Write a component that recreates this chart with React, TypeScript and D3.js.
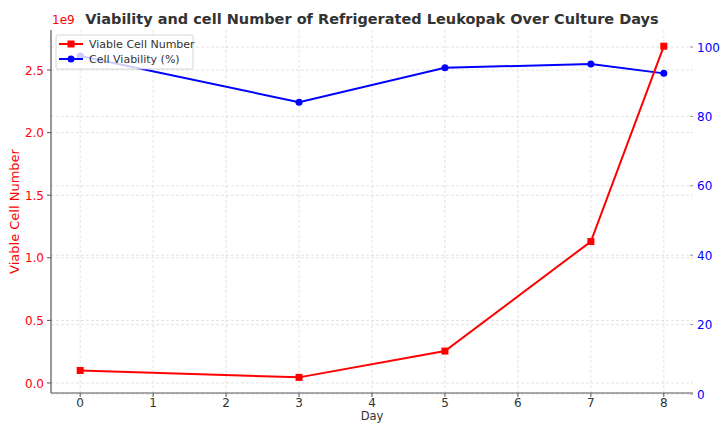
import React from "react";
import * as d3 from "d3";

const days = [0, 3, 5, 7, 8];
const viableCells = [0.1e9, 0.045e9, 0.255e9, 1.13e9, 2.69e9];
const viability = [97.4, 84.1, 94.0, 95.1, 92.4];
const xTicks = [0, 1, 2, 3, 4, 5, 6, 7, 8];
const leftTicks = [0, 0.5e9, 1.0e9, 1.5e9, 2.0e9, 2.5e9];
const rightTicks = [0, 20, 40, 60, 80, 100];

const W = 723, H = 423;
const L = 51, R = 693, T = 30, B = 393;

export default function App() {
  const x = d3.scaleLinear().domain([-0.4, 8.4]).range([L, R]);
  const yL = d3.scaleLinear().domain([0, 2.5e9]).range([383, 70]);
  const yR = d3.scaleLinear().domain([0, 100]).range([394, 47]);
  const lineL = d3.line<number>().x((_, i) => x(days[i])).y((d) => yL(d));
  const lineR = d3.line<number>().x((_, i) => x(days[i])).y((d) => yR(d));
  const font = "DejaVu Sans, sans-serif";
  return (
    <svg width={W} height={H} style={{ position: "absolute", left: 0, top: 0, background: "#fff" }} fontFamily={font}>
      <rect width={W} height={H} fill="#fff" />
      {/* grid */}
      {xTicks.map((t) => (
        <line key={"gx" + t} x1={x(t)} x2={x(t)} y1={T} y2={B} stroke="#dcdcdc" strokeWidth={0.8} strokeDasharray="3,2" />
      ))}
      {leftTicks.map((t) => (
        <line key={"gl" + t} x1={L} x2={R} y1={yL(t)} y2={yL(t)} stroke="#dcdcdc" strokeWidth={0.8} strokeDasharray="3,2" />
      ))}
      {rightTicks.map((t) => (
        <line key={"gr" + t} x1={L} x2={R} y1={yR(t)} y2={yR(t)} stroke="#dcdcdc" strokeWidth={0.8} strokeDasharray="3,2" />
      ))}
      {/* spines */}
      <line x1={L} x2={L} y1={T} y2={B} stroke="#555" strokeWidth={1.2} />
      <line x1={L} x2={R} y1={B} y2={B} stroke="#555" strokeWidth={1.2} />
      {/* x ticks */}
      {xTicks.map((t) => (
        <g key={"xt" + t}>
          <line x1={x(t)} x2={x(t)} y1={B} y2={B + 4} stroke="#555" />
          <text x={x(t)} y={B + 13.5} fontSize={12} textAnchor="middle" fill="#333">{t}</text>
        </g>
      ))}
      <text x={(L + R) / 2} y={B + 27.2} fontSize={11.5} textAnchor="middle" fill="#333">Day</text>
      {/* left ticks */}
      {leftTicks.map((t) => (
        <g key={"lt" + t}>
          <line x1={L - 4} x2={L} y1={yL(t)} y2={yL(t)} stroke="#555" />
          <text x={L - 7} y={yL(t) + 4.5} fontSize={12} textAnchor="end" fill="#ff0000">{(t / 1e9).toFixed(1)}</text>
        </g>
      ))}
      <text x={L + 1} y={24} fontSize={12} fill="#ff0000">1e9</text>
      <text transform={`translate(19,${(T + B) / 2}) rotate(-90)`} fontSize={13} textAnchor="middle" fill="#ff0000">Viable Cell Number</text>
      {/* right ticks */}
      {rightTicks.map((t) => (
        <g key={"rt" + t}>
          <line x1={R - 3} x2={R} y1={yR(t)} y2={yR(t)} stroke="#999" />
          <text x={R + 4} y={yR(t) + 4.5} fontSize={12} textAnchor="start" fill="#0000ff">{t}</text>
        </g>
      ))}
      {/* series */}
      <path d={lineR(viability) || ""} fill="none" stroke="#0000ff" strokeWidth={2} />
      {viability.map((v, i) => (
        <circle key={"c" + i} cx={x(days[i])} cy={yR(v)} r={3.5} fill="#0000ff" />
      ))}
      <path d={lineL(viableCells) || ""} fill="none" stroke="#ff0000" strokeWidth={2} />
      {viableCells.map((v, i) => (
        <rect key={"s" + i} x={x(days[i]) - 3.5} y={yL(v) - 3.5} width={7} height={7} fill="#ff0000" />
      ))}
      {/* title */}
      <text x={372} y={24} fontSize={14.5} fontWeight="bold" textAnchor="middle" fill="#333">Viability and cell Number of Refrigerated Leukopak Over Culture Days</text>
      {/* legend */}
      <rect x={56} y={35} width={137} height={34} rx={2} fill="#fff" fillOpacity={0.8} stroke="#ccc" strokeWidth={0.8} />
      <line x1={59} x2={83} y1={44} y2={44} stroke="#ff0000" strokeWidth={2} />
      <rect x={67.5} y={40.5} width={7} height={7} fill="#ff0000" />
      <text x={89} y={48} fontSize={11} fill="#333">Viable Cell Number</text>
      <line x1={59} x2={83} y1={59} y2={59} stroke="#0000ff" strokeWidth={2} />
      <circle cx={71} cy={59} r={3.5} fill="#0000ff" />
      <text x={89} y={63} fontSize={11} fill="#333">Cell Viability (%)</text>
    </svg>
  );
}
